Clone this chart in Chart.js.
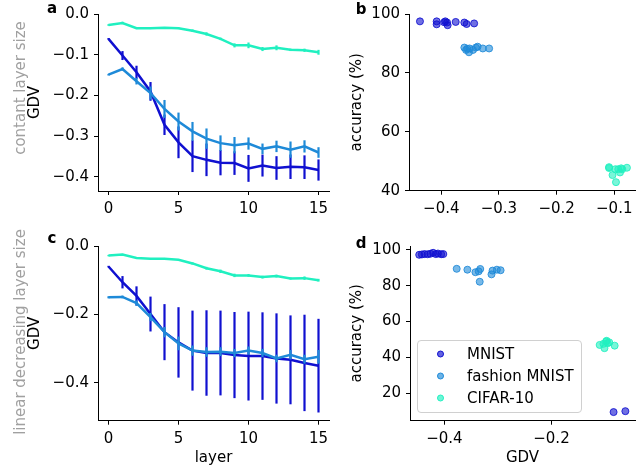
<!DOCTYPE html>
<html>
<head>
<meta charset="utf-8">
<script src="https://cdn.jsdelivr.net/npm/chart.js@4.4.0/dist/chart.umd.min.js"></script>
<style>
  body { margin: 0; background: #fff; font-family: "DejaVu Sans", sans-serif; }
  #page { position: relative; width: 640px; height: 467px; overflow: hidden; }
  canvas { position: absolute; }
  .lbl { position: absolute; white-space: nowrap; font-size: 15px; color: #000;
         transform: translate(-50%, -50%); line-height: 1; }
  .row { color: #a0a0a0; transform: translate(-50%, -50%) rotate(-90deg); }
  .panel { font-weight: bold; }
  #legend { position: absolute; left: 417px; top: 340px; width: 163px; height: 71px;
            border: 1px solid #d0d0d0; border-radius: 4px; background: rgba(255,255,255,0.8);
            font-size: 15px; }
  #legend div { position: absolute; left: 49px; transform: translateY(-50%); white-space: nowrap; }
  #legend span { position: absolute; left: -30px; top: 50%; width: 5px; height: 5px;
                 border-radius: 50%; transform: translateY(-50%); }
</style>
</head>
<body>
<div id="page">
  <canvas id="ca" width="335" height="232" style="left:0;top:0"></canvas>
  <canvas id="cb" width="305" height="232" style="left:335px;top:0"></canvas>
  <canvas id="cc" width="335" height="235" style="left:0;top:232px"></canvas>
  <canvas id="cd" width="305" height="235" style="left:335px;top:232px"></canvas>

  <div class="lbl row" style="left:20px;top:88px">contant layer size</div>
  <div class="lbl row" style="left:20px;top:332px">linear decreasing layer size</div>
  <div class="lbl panel" style="left:52px;top:8px">a</div>
  <div class="lbl panel" style="left:361px;top:9px">b</div>
  <div class="lbl panel" style="left:52px;top:238px">c</div>
  <div class="lbl panel" style="left:361px;top:243px">d</div>

  <div id="legend">
    <div style="top:13px"><span style="background:rgba(16,16,208,0.65);border:1px solid #1010d0"></span>MNIST</div>
    <div style="top:35px"><span style="background:rgba(30,138,216,0.65);border:1px solid #1e8ad8"></span>fashion MNIST</div>
    <div style="top:57px"><span style="background:rgba(32,240,192,0.65);border:1px solid #20f0c0"></span>CIFAR-10</div>
  </div>
</div>
<script>
// layers on the x axis of panels a and c
const layers = [0, 1, 2, 3, 4, 5, 6, 7, 8, 9, 10, 11, 12, 13, 14, 15];

// panel a: constant layer size, mean GDV and error
const aMnist = [-0.061, -0.102, -0.143, -0.190, -0.272, -0.315, -0.349, -0.358, -0.365, -0.366, -0.379, -0.372, -0.378, -0.375, -0.376, -0.383];
const aMnistErr = [0.002, 0.011, 0.016, 0.023, 0.025, 0.039, 0.039, 0.040, 0.031, 0.029, 0.033, 0.027, 0.029, 0.030, 0.029, 0.026];
const aFashion = [-0.149, -0.135, -0.165, -0.194, -0.233, -0.264, -0.288, -0.306, -0.317, -0.322, -0.318, -0.331, -0.325, -0.333, -0.325, -0.340];
const aFashionErr = [0.002, 0.004, 0.008, 0.016, 0.022, 0.022, 0.023, 0.025, 0.019, 0.020, 0.015, 0.013, 0.014, 0.020, 0.015, 0.013];
const aCifar = [-0.027, -0.022, -0.035, -0.035, -0.034, -0.035, -0.041, -0.049, -0.061, -0.077, -0.077, -0.086, -0.083, -0.088, -0.089, -0.094];
const aCifarErr = [0.002, 0.003, 0.002, 0.002, 0.002, 0.002, 0.003, 0.004, 0.003, 0.005, 0.007, 0.005, 0.006, 0.003, 0.004, 0.006];

// panel c: linear decreasing layer size
const cMnist = [-0.060, -0.106, -0.146, -0.199, -0.252, -0.282, -0.306, -0.313, -0.313, -0.319, -0.322, -0.322, -0.329, -0.333, -0.342, -0.350];
const cMnistErr = [0.002, 0.018, 0.028, 0.051, 0.082, 0.103, 0.117, 0.125, 0.124, 0.126, 0.130, 0.128, 0.132, 0.130, 0.141, 0.137];
const cFashion = [-0.150, -0.149, -0.167, -0.208, -0.252, -0.285, -0.306, -0.310, -0.309, -0.313, -0.306, -0.313, -0.329, -0.318, -0.331, -0.324];
const cFashionErr = [0.003, 0.004, 0.008, 0.012, 0.015, 0.020, 0.015, 0.014, 0.013, 0.012, 0.012, 0.012, 0.011, 0.014, 0.013, 0.020];
const cCifar = [-0.028, -0.025, -0.035, -0.037, -0.037, -0.040, -0.051, -0.065, -0.074, -0.086, -0.086, -0.091, -0.088, -0.095, -0.094, -0.100];
const cCifarErr = [0.002, 0.002, 0.002, 0.002, 0.002, 0.002, 0.003, 0.004, 0.005, 0.005, 0.004, 0.004, 0.004, 0.003, 0.005, 0.004];

// panel b: accuracy vs GDV, constant size
const bMnistGdv = [-0.437, -0.408, -0.408, -0.395, -0.393, -0.390, -0.389, -0.375, -0.360, -0.356, -0.343];
const bMnistAcc = [97.5, 97.5, 96.5, 97.2, 97.5, 97.1, 96.2, 97.3, 97.1, 96.6, 96.8];
const bFashionGdv = [-0.360, -0.357, -0.355, -0.352, -0.351, -0.345, -0.340, -0.337, -0.328, -0.317];
const bFashionAcc = [88.6, 87.8, 88.2, 87.0, 88.3, 87.8, 88.6, 88.9, 88.3, 88.3];
const bCifarGdv = [-0.109, -0.109, -0.103, -0.098, -0.097, -0.093, -0.090, -0.088, -0.086, -0.078];
const bCifarAcc = [48.0, 47.7, 45.3, 47.3, 42.9, 47.3, 46.2, 47.6, 47.3, 47.8];

// panel d: accuracy vs GDV, linear decreasing size
const dMnistGdv = [-0.447, -0.442, -0.437, -0.431, -0.426, -0.421, -0.416, -0.412, -0.406, -0.402, -0.084, -0.062];
const dMnistAcc = [97.2, 97.4, 97.6, 97.5, 97.8, 98.3, 97.6, 97.9, 97.5, 97.6, 9.6, 10.1];
const dFashionGdv = [-0.377, -0.357, -0.342, -0.336, -0.333, -0.334, -0.312, -0.310, -0.302, -0.295];
const dFashionAcc = [89.4, 88.9, 87.5, 88.0, 89.3, 82.2, 86.3, 88.4, 88.9, 88.6];
const dCifarGdv = [-0.110, -0.103, -0.101, -0.098, -0.097, -0.095, -0.092, -0.082];
const dCifarAcc = [47.0, 47.6, 45.2, 48.9, 49.3, 48.0, 48.4, 46.6];

// tick values
const layerTicks = [0, 5, 10, 15];
const aGdvTicks = [-0.4, -0.3, -0.2, -0.1, 0];
const cGdvTicks = [-0.4, -0.2, 0];
const bGdvTicks = [-0.4, -0.3, -0.2, -0.1];
const dGdvTicks = [-0.4, -0.2];
const bAccTicks = [40, 60, 80, 100];
const dAccTicks = [20, 40, 60, 80, 100];

const colMnist = '#1010d0';
const colFashion = '#1e8ad8';
const colCifar = '#20f0c0';
const alpha = (hex, a) => {
  const n = parseInt(hex.slice(1), 16);
  return `rgba(${n >> 16},${(n >> 8) & 255},${n & 255},${a})`;
};

Chart.defaults.font.family = '"DejaVu Sans", sans-serif';
Chart.defaults.font.size = 15;
Chart.defaults.color = '#000';

const fmt = dec => v => {
  if (Math.abs(v) < 1e-9) return dec ? '0.0' : '0';
  return (v < 0 ? '\u2212' : '') + Math.abs(v).toFixed(dec);
};

function axis(min, max, ticks, dec, size, title, titlePad) {
  return {
    type: 'linear',
    min, max,
    border: { display: true, color: '#000', width: 1 },
    grid: { drawOnChartArea: false, drawTicks: true, tickLength: 4, color: '#000' },
    ticks: { color: '#000', padding: 5, callback: fmt(dec), maxRotation: 0, autoSkip: false },
    title: title ? { display: true, text: title, color: '#000', padding: titlePad } : { display: false },
    afterBuildTicks: s => { s.ticks = ticks.map(v => ({ value: v })); },
    afterFit: s => { if (s.isHorizontal()) s.height = size; else s.width = size; }
  };
}

// draws vertical error bars after each line, using the chart's y scale
const errorBars = {
  id: 'errorBars',
  afterDatasetDraw(chart, args) {
    const ds = chart.data.datasets[args.index];
    if (!ds.errors) return;
    const y = chart.scales.y, ctx = chart.ctx;
    ctx.save();
    ctx.strokeStyle = ds.borderColor;
    ctx.lineWidth = 2.2;
    args.meta.data.forEach((pt, i) => {
      const v = ds.data[i].y, e = ds.errors[i];
      ctx.beginPath();
      ctx.moveTo(pt.x, y.getPixelForValue(v + e));
      ctx.lineTo(pt.x, y.getPixelForValue(v - e));
      ctx.stroke();
    });
    ctx.restore();
  }
};

const pts = (xs, ys) => xs.map((x, i) => ({ x, y: ys[i] }));

function lineSet(vals, errs, col) {
  return { data: pts(layers, vals), errors: errs, borderColor: col, borderWidth: 2.5,
           showLine: true, pointRadius: 0, tension: 0 };
}
function dotSet(xs, ys, col) {
  return { data: pts(xs, ys), backgroundColor: alpha(col, 0.6), borderColor: alpha(col, 0.85),
           borderWidth: 1, pointRadius: 3.5 };
}

function make(id, datasets, x, y, pad) {
  return new Chart(document.getElementById(id), {
    type: 'scatter',
    data: { datasets },
    options: {
      responsive: false, animation: false, devicePixelRatio: 1,
      layout: { padding: pad },
      plugins: { legend: { display: false }, tooltip: { enabled: false } },
      scales: { x, y }
    },
    plugins: [errorBars]
  });
}

// panel a
make('ca',
  [lineSet(aCifar, aCifarErr, colCifar), lineSet(aFashion, aFashionErr, colFashion), lineSet(aMnist, aMnistErr, colMnist)],
  axis(-0.75, 15.75, layerTicks, 0, 41),
  axis(-0.4345, 0, aGdvTicks, 1, 98, 'GDV', { top: 26, bottom: 0 }),
  { top: 5.7, right: 6, left: 0, bottom: 0 });

// panel c
make('cc',
  [lineSet(cCifar, cCifarErr, colCifar), lineSet(cFashion, cFashionErr, colFashion), lineSet(cMnist, cMnistErr, colMnist)],
  axis(-0.75, 15.75, layerTicks, 0, 46.3, 'layer', { top: 0, bottom: 0 }),
  axis(-0.511, 0, cGdvTicks, 1, 98, 'GDV', { top: 26, bottom: 0 }),
  { top: 4.7, right: 6, left: 0, bottom: 0 });

// panel b
make('cb',
  [dotSet(bCifarGdv, bCifarAcc, colCifar), dotSet(bFashionGdv, bFashionAcc, colFashion), dotSet(bMnistGdv, bMnistAcc, colMnist)],
  axis(-0.456, -0.064, bGdvTicks, 1, 41.3),
  axis(40, 100, bAccTicks, 0, 74, 'accuracy (%)', { top: 13, bottom: 0 }),
  { top: 6.7, right: 3, left: 0, bottom: 0 });

// panel d
make('cd',
  [dotSet(dCifarGdv, dCifarAcc, colCifar), dotSet(dFashionGdv, dFashionAcc, colFashion), dotSet(dMnistGdv, dMnistAcc, colMnist)],
  axis(-0.4642, -0.044, dGdvTicks, 1, 46.3, 'GDV', { top: 0, bottom: 0 }),
  axis(4.8, 102.1, dAccTicks, 0, 75, 'accuracy (%)', { top: 13, bottom: 0 }),
  { top: 4.7, right: 1, left: 0, bottom: 0 });
</script>
</body>
</html>
